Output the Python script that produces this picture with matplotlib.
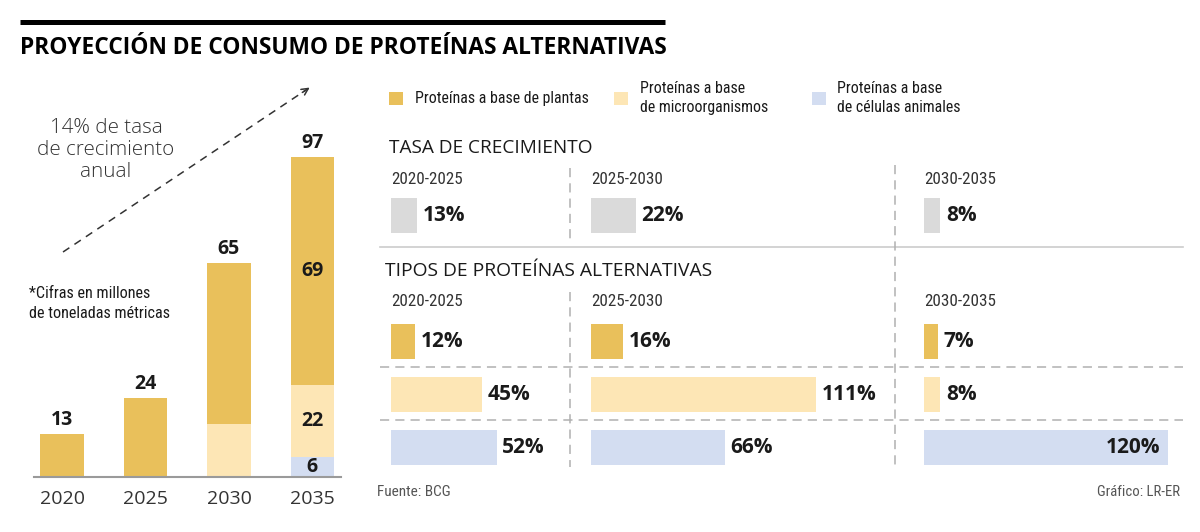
import matplotlib
matplotlib.use("Agg")
import matplotlib.pyplot as plt

# ---------------- data ----------------
years = ["2020", "2025", "2030", "2035"]
plants = [13, 24, 49, 69]
micro = [0, 0, 16, 22]
cells = [0, 0, 0, 6]
totals = [13, 24, 65, 97]
inner_labels_year = "2035"

periods = ["2020-2025", "2025-2030", "2030-2035"]
growth_total = [13, 22, 8]
growth_plants = [12, 16, 7]
growth_micro = [45, 111, 8]
growth_cells = [52, 66, 120]

legend_labels = ["Proteínas a base de plantas",
                 "Proteínas a base\nde microorganismos",
                 "Proteínas a base\nde células animales"]
title = "PROYECCIÓN DE CONSUMO DE PROTEÍNAS ALTERNATIVAS"
note = "*Cifras en millones\nde toneladas métricas"
rate_note = "14% de tasa\nde crecimiento\nanual"
section1 = "TASA DE CRECIMIENTO"
section2 = "TIPOS DE PROTEÍNAS ALTERNATIVAS"
source = "Fuente: BCG"
credit = "Gráfico: LR-ER"

# ---------------- style ----------------
GOLD = "#E9C05B"
LIGHT = "#FDE6B5"
BLUE = "#D3DDF1"
GRAY = "#DADADA"
TXT = "#1a1a1a"
REG = ["Open Sans", "DejaVu Sans"]
COND = ["Roboto Condensed", "Liberation Sans Narrow", "Roboto", "DejaVu Sans"]
BOLD = ["Open Sans", "DejaVu Sans"]

W, H = 1200, 532
fig = plt.figure(figsize=(W / 100, H / 100), dpi=100)


def px_axes(x0, y0, x1, y1):
    return fig.add_axes([x0 / W, 1 - y1 / H, (x1 - x0) / W, (y1 - y0) / H])


base = fig.add_axes([0, 0, 1, 1])
base.set_xlim(0, W)
base.set_ylim(H, 0)
base.axis("off")

# title
base.plot([20, 665], [21.5, 21.5], color="black", lw=3.6, solid_capstyle="butt")
base.text(20, 48, title, fontsize=16.4, fontweight="bold", family=BOLD,
          color="black", va="center", ha="left")

# ---------------- left stacked bars ----------------
PXU = 3.3
ax = px_axes(34, 80, 341, 477)
ax.set_ylim(0, (477 - 80) / PXU)
ax.set_xlim(-0.337, 3.343)
x = list(range(len(years)))
bw = 0.52
ax.bar(x, cells, bw, color=BLUE)
ax.bar(x, micro, bw, bottom=cells, color=LIGHT)
ax.bar(x, plants, bw, bottom=[c + m for c, m in zip(cells, micro)], color=GOLD)
for s in ["top", "right", "left"]:
    ax.spines[s].set_visible(False)
ax.spines["bottom"].set_color("#9a9a9a")
ax.spines["bottom"].set_linewidth(1.5)
ax.set_yticks([])
ax.set_xticks(x)
ax.set_xticklabels(years, family=REG, fontsize=14, color="#333333")
ax.tick_params(axis="x", length=0, pad=9)
ax.patch.set_alpha(0)
for i, t in enumerate(totals):
    ax.annotate(str(t), (i, t), xytext=(0, 10), textcoords="offset points",
                ha="center", va="center", fontsize=14, fontweight="bold",
                family=BOLD, color=TXT)
k = years.index(inner_labels_year)
segs = [(cells[k], 0), (micro[k], cells[k]), (plants[k], cells[k] + micro[k])]
for v, b in segs:
    ax.text(k, b + v / 2, str(v), ha="center", va="center", fontsize=14,
            fontweight="bold", family=BOLD, color=TXT)

# annotations
base.plot([63, 306], [252, 90], color="#333333", lw=1.1, ls=(0, (5, 4)))
base.annotate("", xy=(312, 86), xytext=(300, 94),
              arrowprops=dict(arrowstyle="->", color="#333333", lw=1.1,
                              mutation_scale=12))
base.text(106, 150, rate_note, ha="center", va="center", fontsize=14.8,
          family=REG, color="#333333", linespacing=1.16, fontweight="light")
base.text(29, 303.5, note, ha="left", va="center", fontsize=11.6, family=COND,
          color=TXT, linespacing=1.4)

# ---------------- legend ----------------
leg_pos = [(389, 415), (614, 640), (812, 837)]
for (sx, tx), lab, col in zip(leg_pos, legend_labels, [GOLD, LIGHT, BLUE]):
    base.add_patch(plt.Rectangle((sx, 92), 14, 13, color=col, lw=0))
    base.text(tx, 98, lab, ha="left", va="center", fontsize=11.4, family=COND,
              color=TXT, linespacing=1.4)

# section titles
base.text(389, 148, section1, ha="left", va="center", fontsize=13.7, family=REG,
          color=TXT)
base.text(385, 271, section2, ha="left", va="center", fontsize=13.9, family=REG,
          color=TXT)

# grid lines
LINEC = "#b0b0b0"
base.plot([380, 1183], [247, 247], color="#cccccc", lw=1.2)
for yy in [367, 420]:
    base.plot([380, 1183], [yy, yy], color=LINEC, lw=1.1, ls=(0, (6, 4)))
base.plot([570, 570], [168, 243], color=LINEC, lw=1.1, ls=(0, (6, 4)))
base.plot([570, 570], [292, 467], color=LINEC, lw=1.1, ls=(0, (6, 4)))
base.plot([895, 895], [165, 467], color=LINEC, lw=1.1, ls=(0, (6, 4)))

# ---------------- horizontal bars ----------------
PXP = 2.03
col_x0 = [391, 591, 924]
col_x1 = [565, 890, 1183]
ROW = 53


def hbars(c, y0, vals, colors):
    n = len(vals)
    a = px_axes(col_x0[c], y0, col_x1[c], y0 + ROW * n)
    wpct = (col_x1[c] - col_x0[c]) / PXP
    a.set_xlim(0, wpct)
    a.set_ylim(n - 0.5, -0.5)
    rows = list(range(n))
    a.barh(rows, vals, height=0.67, color=colors)
    a.axis("off")
    a.patch.set_alpha(0)
    for r, v in zip(rows, vals):
        if v + 20 > wpct:
            a.annotate(f"{v}%", (v, r), xytext=(-5, 0), textcoords="offset points",
                       ha="right", va="center", fontsize=15, fontweight="bold",
                       family=BOLD, color=TXT)
        else:
            a.annotate(f"{v}%", (v, r), xytext=(4, 0), textcoords="offset points",
                       ha="left", va="center", fontsize=15, fontweight="bold",
                       family=BOLD, color=TXT)


for c, p in enumerate(periods):
    base.text(col_x0[c], 179, p, ha="left", va="center", fontsize=12.3, family=COND,
              color="#333333")
    base.text(col_x0[c], 302, p, ha="left", va="center", fontsize=12.3, family=COND,
              color="#333333")
    hbars(c, 189, [growth_total[c]], [GRAY])
    hbars(c, 315, [growth_plants[c], growth_micro[c], growth_cells[c]],
          [GOLD, LIGHT, BLUE])

base.text(377, 492, source, ha="left", va="center", fontsize=11, family=COND,
          color="#555555")
base.text(1180, 492, credit, ha="right", va="center", fontsize=10.6, family=COND,
          color="#555555")

fig.savefig("out.png", dpi=100)
